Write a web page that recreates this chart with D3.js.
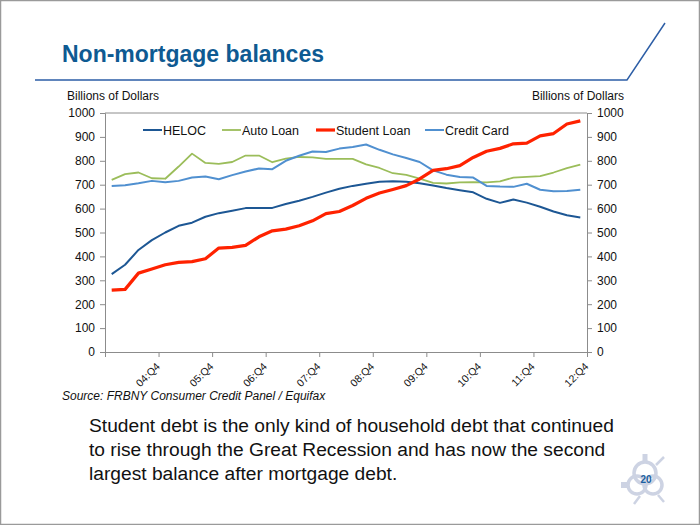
<!DOCTYPE html>
<html><head><meta charset="utf-8">
<script src="https://cdn.jsdelivr.net/npm/d3@7"></script>
<style>body{margin:0;background:#fff}svg{display:block;font-family:"Liberation Sans",Arial,sans-serif}</style>
</head><body>
<svg id="c" width="700" height="525"></svg>
<script>
const categories = ["04:Q1","04:Q2","04:Q3","04:Q4","05:Q1","05:Q2","05:Q3","05:Q4","06:Q1","06:Q2","06:Q3","06:Q4",
"07:Q1","07:Q2","07:Q3","07:Q4","08:Q1","08:Q2","08:Q3","08:Q4","09:Q1","09:Q2","09:Q3","09:Q4",
"10:Q1","10:Q2","10:Q3","10:Q4","11:Q1","11:Q2","11:Q3","11:Q4","12:Q1","12:Q2","12:Q3","12:Q4"];
const tickLabels = ["04:Q4","05:Q4","06:Q4","07:Q4","08:Q4","09:Q4","10:Q4","11:Q4","12:Q4"];
const yTicks = [0,100,200,300,400,500,600,700,800,900,1000];
const seriesNames = ["HELOC","Auto Loan","Student Loan","Credit Card"];
const heloc = [326,365,427,468,500,528,541,566,581,591,602,603,603,619,633,649,667,683,695,704,712,714,712,706,697,686,677,668,641,624,638,625,608,588,572,563];
const autoLoan = [720,744,751,727,725,776,830,791,787,795,822,822,794,809,816,814,808,808,808,785,770,748,741,725,708,705,710,711,710,714,730,733,736,751,769,784];
const studentLoan = [259,262,330,347,365,375,378,390,435,438,446,482,507,514,528,549,579,588,613,643,665,680,696,724,760,767,780,814,840,852,871,874,904,914,954,967];
const creditCard = [695,698,706,716,710,716,730,734,723,740,755,768,765,800,821,839,837,851,858,868,846,827,812,795,760,742,732,730,695,692,691,704,679,673,674,679];

const svg = d3.select("#c");
const W = 700, H = 525;
const L = 105, R = 587, T = 113, B = 352;

// slide border
svg.append("rect").attr("x",0.5).attr("y",0.5).attr("width",W-1).attr("height",H-1)
  .attr("fill","#fff").attr("stroke","#9a9a9a").attr("stroke-width",1.5);

// title + decorative line
svg.append("text").attr("x",62).attr("y",62).attr("fill","#0e5a92")
  .attr("font-size",23).attr("font-weight","bold").text("Non-mortgage balances");
svg.append("path").attr("d","M35,80 L627,80 L665,23").attr("fill","none")
  .attr("stroke","#2d5ea6").attr("stroke-width",1.5);

const y = d3.scaleLinear().domain([0,1000]).range([B,T]);
const x = d3.scaleBand().domain(categories).range([L,R]);
const xb = d3.scaleLinear().domain([0,categories.length]).range([L,R]);
const cx = c => x(c) + x.bandwidth()/2;

// axis titles
svg.append("text").attr("x",67).attr("y",100).attr("font-size",12).attr("fill","#111").text("Billions of Dollars");
svg.append("text").attr("x",624).attr("y",100).attr("text-anchor","end").attr("font-size",12).attr("fill","#111").text("Billions of Dollars");

// plot frame top
svg.append("line").attr("x1",L).attr("x2",R).attr("y1",T).attr("y2",T).attr("stroke","#8c8c8c");

const axL = svg.append("g").attr("transform",`translate(${L},0)`)
  .call(d3.axisLeft(y).tickValues(yTicks).tickSize(5).tickPadding(5).tickFormat(d3.format("d")));
const axR = svg.append("g").attr("transform",`translate(${R},0)`)
  .call(d3.axisRight(y).tickValues(yTicks).tickSize(5).tickPadding(5).tickFormat(d3.format("d")));
const axB = svg.append("g").attr("transform",`translate(0,${B})`)
  .call(d3.axisBottom(xb).tickValues(d3.range(0,categories.length+1,4)).tickSize(5).tickFormat(""));
[axL,axR,axB].forEach(g=>{
  g.selectAll("path,line").attr("stroke","#8c8c8c");
  g.selectAll("text").attr("font-size",12).attr("fill","#111").attr("font-family","Liberation Sans, Arial, sans-serif");
});

// x labels
svg.append("g").selectAll("text").data(tickLabels).join("text")
  .attr("transform",d=>`translate(${cx(d)+3.5},${B+10}) rotate(-45)`)
  .attr("text-anchor","end").attr("dy","0.7em").attr("font-size",10.5).attr("fill","#111").text(d=>d);

const series = [
  {name:seriesNames[0], values:heloc, color:"#1d5794", w:2},
  {name:seriesNames[1], values:autoLoan, color:"#9bbd5a", w:1.8},
  {name:seriesNames[2], values:studentLoan, color:"#ff2200", w:3.2},
  {name:seriesNames[3], values:creditCard, color:"#5090d0", w:2}
];
const line = d3.line().x((d,i)=>cx(categories[i])).y(d=>y(d));
const drawOrder = [1,3,0,2];
drawOrder.forEach(k=>{
  const s = series[k];
  svg.append("path").datum(s.values).attr("d",line).attr("fill","none")
    .attr("stroke",s.color).attr("stroke-width",s.w).attr("stroke-linejoin","round");
});

// legend
const legX = [143,222,316,425];
series.forEach((s,i)=>{
  svg.append("line").attr("x1",legX[i]).attr("x2",legX[i]+19).attr("y1",130).attr("y2",130)
    .attr("stroke",s.color).attr("stroke-width",s.w);
  svg.append("text").attr("x",legX[i]+20).attr("y",134.5).attr("font-size",12.5).attr("fill","#111").text(s.name);
});

// source
svg.append("text").attr("x",62).attr("y",400).attr("font-size",12).attr("font-style","italic")
  .attr("fill","#111").text("Source: FRBNY Consumer Credit Panel / Equifax");

// paragraph
const para = ["Student debt is the only kind of household debt that continued",
  "to rise through the Great Recession and has now the second",
  "largest balance after mortgage debt."];
svg.append("g").selectAll("text").data(para).join("text")
  .attr("x",89).attr("y",(d,i)=>432+i*24).attr("font-size",19.2).attr("fill","#111").text(d=>d);

// logo
const lg = svg.append("g").attr("transform","translate(645,478)").attr("stroke","#cdd3e3").attr("fill","none");
lg.append("circle").attr("cx",0).attr("cy",-5).attr("r",11).attr("stroke-width",3.5);
lg.append("circle").attr("cx",-8).attr("cy",7).attr("r",9).attr("stroke-width",3.5);
lg.append("circle").attr("cx",8).attr("cy",7).attr("r",9).attr("stroke-width",3.5);
lg.append("line").attr("x1",0).attr("y1",-24).attr("x2",0).attr("y2",-16).attr("stroke-width",5);
lg.append("line").attr("x1",-24).attr("y1",7).attr("x2",-17).attr("y2",7).attr("stroke-width",6);
lg.append("line").attr("x1",11).attr("y1",-13).attr("x2",19).attr("y2",-21).attr("stroke-width",2.5);
lg.append("line").attr("x1",-5).attr("y1",18).attr("x2",-11).attr("y2",26).attr("stroke-width",2.5);
lg.append("line").attr("x1",13).attr("y1",17).attr("x2",19).attr("y2",24).attr("stroke-width",2.5);
svg.append("text").attr("x",646).attr("y",483).attr("text-anchor","middle").attr("font-size",10)
  .attr("font-weight","bold").attr("fill","#1a5fa0").text("20");
</script>
</body></html>
